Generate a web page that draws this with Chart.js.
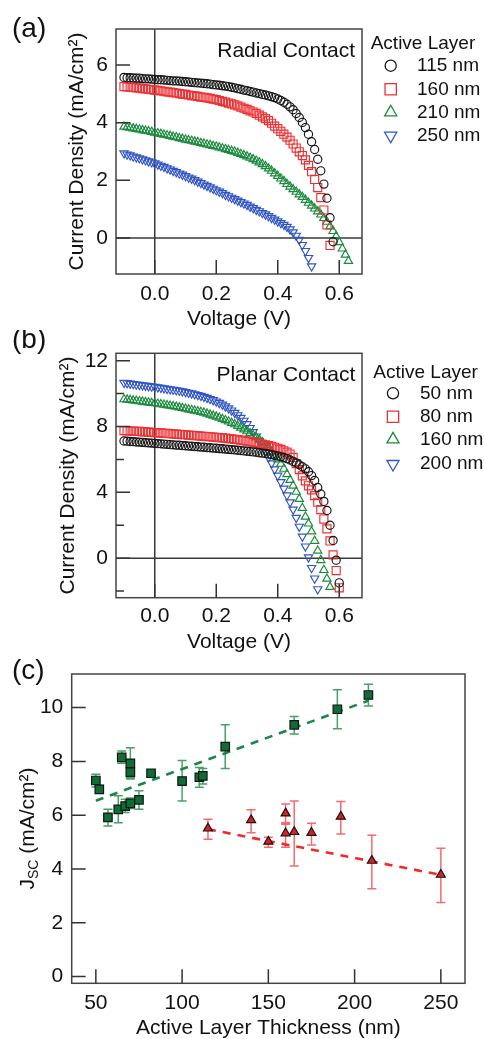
<!DOCTYPE html>
<html>
<head>
<meta charset="utf-8">
<script src="https://cdn.jsdelivr.net/npm/chart.js@4.4.1/dist/chart.umd.min.js"></script>
<style>
  html, body { margin: 0; padding: 0; background: #fff; }
  body { width: 484px; height: 1039px; position: relative; overflow: hidden; }
  canvas { position: absolute; left: 0; }
</style>
</head>
<body>
<canvas id="chartA" width="484" height="335" style="top:0px"></canvas>
<canvas id="chartB" width="484" height="325" style="top:330px"></canvas>
<canvas id="chartC" width="484" height="389" style="top:650px"></canvas>
<script>
const FONT = "'Liberation Sans', Arial, Helvetica, sans-serif";

// voltage sweep shared by panels (a) and (b)
const voltage = [-0.10,-0.09,-0.08,-0.07,-0.06,-0.05,-0.04,-0.03,-0.02,-0.01,
  0.00,0.01,0.02,0.03,0.04,0.05,0.06,0.07,0.08,0.09,
  0.10,0.11,0.12,0.13,0.14,0.15,0.16,0.17,0.18,0.19,
  0.20,0.21,0.22,0.23,0.24,0.25,0.26,0.27,0.28,0.29,
  0.30,0.31,0.32,0.33,0.34,0.35,0.36,0.37,0.38,0.39,
  0.40,0.41,0.42,0.43,0.44,0.45,0.46,0.47,0.48,0.49,
  0.50,0.51,0.52,0.53,0.54,0.55,0.56,0.57,0.58,0.59,
  0.60,0.61,0.62,0.63];

// (a) radial contact, current density (mA/cm2)
const jA115 = [5.57,5.56,5.56,5.55,5.54,5.54,5.53,5.52,5.52,5.51,
  5.50,5.49,5.49,5.48,5.47,5.46,5.45,5.45,5.44,5.43,
  5.42,5.41,5.40,5.39,5.38,5.37,5.36,5.35,5.34,5.32,
  5.31,5.30,5.28,5.27,5.25,5.23,5.21,5.18,5.16,5.13,
  5.11,5.08,5.06,5.03,5.01,4.98,4.96,4.93,4.90,4.87,
  4.82,4.77,4.71,4.64,4.55,4.45,4.32,4.18,4.01,3.83,
  3.60,3.34,3.07,2.73,2.33,1.87,1.38,0.70,-0.13];
const jA160 = [5.25,5.24,5.23,5.22,5.21,5.20,5.18,5.17,5.16,5.15,
  5.13,5.12,5.10,5.09,5.07,5.06,5.04,5.03,5.01,4.99,
  4.98,4.96,4.94,4.93,4.91,4.89,4.88,4.86,4.84,4.82,
  4.80,4.77,4.74,4.71,4.68,4.65,4.62,4.58,4.54,4.50,
  4.46,4.41,4.37,4.32,4.26,4.20,4.14,4.07,3.98,3.88,
  3.79,3.70,3.60,3.50,3.39,3.26,3.12,2.99,2.86,2.71,
  2.52,2.30,2.03,1.75,1.40,0.97,0.45,-0.26];
const jA210 = [3.86,3.84,3.82,3.80,3.78,3.76,3.74,3.72,3.70,3.68,
  3.65,3.63,3.61,3.58,3.56,3.54,3.51,3.49,3.46,3.44,
  3.41,3.39,3.37,3.34,3.32,3.29,3.27,3.24,3.22,3.19,
  3.17,3.14,3.11,3.08,3.05,3.02,2.99,2.95,2.91,2.87,
  2.83,2.78,2.73,2.68,2.62,2.56,2.49,2.41,2.33,2.24,
  2.15,2.06,1.97,1.87,1.78,1.69,1.60,1.51,1.42,1.32,
  1.22,1.12,1.02,0.92,0.81,0.69,0.56,0.40,0.24,0.06,
  -0.15,-0.37,-0.58,-0.80];
const jA250 = [2.94,2.90,2.87,2.83,2.80,2.77,2.73,2.70,2.66,2.63,
  2.59,2.55,2.51,2.47,2.42,2.38,2.33,2.29,2.24,2.20,
  2.15,2.10,2.06,2.01,1.96,1.91,1.86,1.81,1.76,1.71,
  1.66,1.61,1.56,1.50,1.45,1.40,1.35,1.30,1.25,1.20,
  1.15,1.09,1.04,0.98,0.93,0.87,0.82,0.76,0.70,0.64,
  0.58,0.52,0.46,0.39,0.30,0.20,0.08,-0.06,-0.24,-0.45,
  -0.69,-0.98];

// (b) planar contact
const jB50 = [7.12,7.11,7.09,7.08,7.06,7.05,7.04,7.02,7.01,6.99,
  6.98,6.96,6.95,6.93,6.92,6.90,6.89,6.87,6.86,6.84,
  6.83,6.81,6.80,6.78,6.77,6.75,6.74,6.72,6.71,6.69,
  6.68,6.66,6.65,6.63,6.61,6.60,6.58,6.56,6.54,6.52,
  6.50,6.48,6.46,6.44,6.41,6.38,6.36,6.33,6.29,6.25,
  6.21,6.17,6.12,6.05,5.97,5.88,5.79,5.68,5.56,5.43,
  5.25,5.02,4.72,4.30,3.90,3.45,2.90,2.00,1.08,-0.12,
  -1.50];
const jB80 = [7.75,7.74,7.73,7.72,7.71,7.70,7.68,7.67,7.66,7.65,
  7.63,7.62,7.61,7.59,7.58,7.57,7.55,7.54,7.53,7.51,
  7.50,7.48,7.47,7.45,7.44,7.42,7.41,7.39,7.38,7.36,
  7.35,7.33,7.31,7.29,7.27,7.25,7.22,7.20,7.17,7.14,
  7.11,7.08,7.04,7.00,6.96,6.92,6.88,6.84,6.79,6.74,
  6.68,6.61,6.53,6.44,6.33,6.12,5.75,5.38,5.00,4.70,
  4.40,4.15,3.80,3.40,2.95,2.38,1.78,1.05,0.20,-0.75,
  -1.80];
const jB160 = [9.65,9.63,9.61,9.58,9.56,9.53,9.51,9.48,9.46,9.43,
  9.41,9.38,9.35,9.32,9.29,9.26,9.23,9.20,9.16,9.12,
  9.08,9.04,9.00,8.96,8.92,8.88,8.84,8.78,8.72,8.66,
  8.60,8.53,8.46,8.38,8.30,8.22,8.13,8.03,7.93,7.82,
  7.71,7.59,7.47,7.34,7.20,7.05,6.88,6.69,6.48,6.25,
  6.00,5.73,5.43,5.10,4.75,4.40,4.03,3.60,3.05,2.52,
  2.10,1.62,1.05,0.45,-0.12,-0.72,-1.25,-1.75];
const jB200 = [10.66,10.64,10.61,10.59,10.56,10.54,10.51,10.49,10.46,10.44,
  10.42,10.39,10.36,10.33,10.30,10.27,10.24,10.21,10.18,10.14,
  10.10,10.06,10.02,9.97,9.92,9.87,9.81,9.75,9.68,9.61,
  9.53,9.44,9.34,9.23,9.11,8.98,8.84,8.69,8.53,8.36,
  8.15,7.92,7.67,7.40,7.11,6.80,6.47,6.13,5.77,5.40,
  5.02,4.63,4.23,3.82,3.40,2.96,2.46,1.92,1.32,0.72,
  0.06,-0.59,-1.23,-1.88];

// (c) short-circuit current vs active layer thickness
const planarThick = [50,52,57,63,65,67,70,70,70,75,82,100,110,112,125,165,190,208];
const planarJsc   = [7.29,6.96,5.92,6.22,8.15,6.34,7.93,7.60,6.44,6.57,7.56,7.27,7.41,7.46,8.55,9.36,9.94,10.47];
const planarHi    = [7.52,7.10,6.22,6.72,8.39,6.59,8.51,7.80,6.64,6.91,7.68,8.03,7.77,7.74,9.36,9.67,10.66,10.87];
const planarLo    = [7.05,6.85,5.60,5.72,7.93,6.10,7.35,7.40,6.25,6.22,7.44,6.53,7.04,7.16,7.74,9.02,9.21,10.06];
const radialThick = [115,140,150,160,160,165,175,192,210,250];
const radialJsc   = [5.51,5.82,5.02,6.07,5.33,5.38,5.35,5.95,4.31,3.79];
const radialHi    = [5.85,6.20,5.18,6.42,5.66,6.53,5.70,6.51,5.25,4.77];
const radialLo    = [5.11,5.35,4.81,5.72,4.81,4.11,4.89,5.30,3.27,2.75];
const planarFitX = [50, 208], planarFitY = [6.54, 10.26];
const radialFitX = [115, 250], radialFitY = [5.48, 3.78];

const COL = { black: '#161616', red: '#ee3033', green: '#1c8a3e', blue: '#3155c4' };

function drawMarker(ctx, style, x, y, r, down) {
  ctx.beginPath();
  if (style === 'circle') {
    ctx.arc(x, y, r, 0, Math.PI * 2);
  } else if (style === 'rect') {
    const s = r * Math.SQRT1_2;
    ctx.rect(x - s, y - s, 2 * s, 2 * s);
  } else {
    const d = down ? -1 : 1;
    ctx.moveTo(x, y - r * d);
    ctx.lineTo(x + 0.866 * r, y + 0.5 * r * d);
    ctx.lineTo(x - 0.866 * r, y + 0.5 * r * d);
    ctx.closePath();
  }
}

const decor = {
  id: 'decor',
  beforeDatasetsDraw(chart, args, o) {
    const { ctx, chartArea: a } = chart;
    const xs = chart.scales.x, ys = chart.scales.y;
    ctx.save();
    if (o.zeroLines) {
      ctx.strokeStyle = '#3a3a3a'; ctx.lineWidth = 1.5;
      ctx.beginPath();
      const x0 = xs.getPixelForValue(0), y0 = ys.getPixelForValue(0);
      ctx.moveTo(x0, a.top); ctx.lineTo(x0, a.bottom);
      ctx.moveTo(a.left, y0); ctx.lineTo(a.right, y0);
      ctx.stroke();
    }
    // error bars
    chart.data.datasets.forEach(ds => {
      if (!ds.errHi) return;
      ctx.strokeStyle = ds.errColor; ctx.lineWidth = 1.5;
      ctx.beginPath();
      ds.data.forEach((p, k) => {
        const px = xs.getPixelForValue(p.x);
        const t = ys.getPixelForValue(ds.errHi[k]);
        const b = ys.getPixelForValue(ds.errLo[k]);
        ctx.moveTo(px, t); ctx.lineTo(px, b);
        ctx.moveTo(px - 4.5, t); ctx.lineTo(px + 4.5, t);
        ctx.moveTo(px - 4.5, b); ctx.lineTo(px + 4.5, b);
      });
      ctx.stroke();
    });
    ctx.restore();
  },
  afterDraw(chart, args, o) {
    const { ctx, chartArea: a } = chart;
    const xs = chart.scales.x, ys = chart.scales.y;
    ctx.save();
    // frame and inward ticks
    ctx.strokeStyle = '#444'; ctx.lineWidth = 1.5;
    ctx.strokeRect(a.left, a.top, a.right - a.left, a.bottom - a.top);
    ctx.strokeStyle = '#333';
    ctx.beginPath();
    o.yMajor.forEach(v => { const y = ys.getPixelForValue(v); ctx.moveTo(a.left, y); ctx.lineTo(a.left + 14, y); });
    (o.yMinor || []).forEach(v => { const y = ys.getPixelForValue(v); ctx.moveTo(a.left, y); ctx.lineTo(a.left + 8, y); });
    o.xMajor.forEach(v => { const x = xs.getPixelForValue(v); ctx.moveTo(x, a.bottom); ctx.lineTo(x, a.bottom - 14); });
    ctx.stroke();

    ctx.fillStyle = '#111';
    ctx.textBaseline = 'alphabetic';
    ctx.textAlign = 'left';
    ctx.font = '28px ' + FONT;
    ctx.fillText(o.panel.text, o.panel.x, o.panel.y);

    if (o.inset) {
      ctx.font = '21px ' + FONT;
      ctx.textAlign = 'right';
      ctx.textBaseline = 'middle';
      ctx.fillText(o.inset.text, o.inset.x, o.inset.y);
    }

    if (o.legend) {
      const L = o.legend;
      ctx.font = '19px ' + FONT;
      ctx.textAlign = 'left';
      ctx.textBaseline = 'middle';
      ctx.fillText(L.title, L.tx, L.ty);
      chart.data.datasets.forEach((ds, i) => {
        const y = L.ys[i];
        ctx.strokeStyle = ds.borderColor; ctx.lineWidth = 1.3;
        const r = ds.pointStyle === 'circle' ? 5.6 : (ds.pointStyle === 'rect' ? 8 : 7);
        drawMarker(ctx, ds.pointStyle, L.mx, y, r, ds.pointRotation === 180);
        ctx.stroke();
        ctx.fillStyle = '#111';
        ctx.fillText(ds.label, L.lx, y);
      });
    }

    if (o.jscTitle) {
      const T = o.jscTitle;
      ctx.translate(T.x, T.y);
      ctx.rotate(-Math.PI / 2);
      ctx.textAlign = 'left';
      ctx.textBaseline = 'middle';
      const big = '21px ' + FONT, small = '14px ' + FONT;
      ctx.font = big; const wJ = ctx.measureText('J').width;
      ctx.font = small; const wS = ctx.measureText('SC').width;
      ctx.font = big; const wR = ctx.measureText(' (mA/cm²)').width;
      let x = -(wJ + wS + wR) / 2;
      ctx.fillText('J', x, 0); x += wJ;
      ctx.font = small; ctx.fillText('SC', x, 6); x += wS;
      ctx.font = big; ctx.fillText(' (mA/cm²)', x, 0);
    }
    ctx.restore();
  }
};

function baseOptions(o) {
  return {
    responsive: false,
    animation: false,
    layout: { padding: { top: o.top, right: o.right, left: 0, bottom: 0 } },
    plugins: { legend: { display: false }, tooltip: { enabled: false }, decor: o.decor },
    scales: {
      x: {
        type: 'linear', min: o.xMin, max: o.xMax,
        grid: { display: false, drawTicks: false }, border: { display: false },
        afterBuildTicks: s => { s.ticks = o.xMajor.map(v => ({ value: v })); },
        afterFit: s => { s.height = o.xH; },
        ticks: { autoSkip: false, maxRotation: 0, padding: o.xTickPad, color: '#111',
                 font: { family: FONT, size: 21 }, callback: o.xFmt },
        title: { display: true, text: o.xTitle, color: '#111',
                 font: { family: FONT, size: 21, lineHeight: 1 }, padding: { top: 0, bottom: o.xTitlePad } }
      },
      y: {
        type: 'linear', min: o.yMin, max: o.yMax,
        grid: { display: false, drawTicks: false }, border: { display: false },
        afterBuildTicks: s => { s.ticks = o.yMajor.map(v => ({ value: v })); },
        afterFit: s => { s.width = o.yW; },
        ticks: { autoSkip: false, padding: o.yTickPad, color: '#111',
                 font: { family: FONT, size: 21 }, callback: v => String(v) },
        title: { display: !!o.yTitle, text: o.yTitle || '', color: '#111',
                 font: { family: FONT, size: 21, lineHeight: 1 }, padding: { top: o.yTitlePad || 0, bottom: 0 } }
      }
    }
  };
}

const toPts = ys => ys.map((y, i) => ({ x: voltage[i], y }));
function jvSet(label, ys, style, color, down) {
  const r = style === 'circle' ? 4.1 : (style === 'rect' ? 5.7 : 4.8);
  return {
    label, data: toPts(ys), pointStyle: style, pointRotation: down ? 180 : 0,
    pointRadius: r, pointHoverRadius: r,
    borderColor: color, backgroundColor: 'rgba(255,255,255,0)', pointBorderWidth: 1.15, showLine: false
  };
}

const vTicks = [0, 0.2, 0.4, 0.6];

// --- PANEL (a): Radial contact ---
new Chart(document.getElementById('chartA'), {
  type: 'scatter',
  data: { datasets: [
    jvSet('115 nm', jA115, 'circle', COL.black),
    jvSet('160 nm', jA160, 'rect', COL.red),
    jvSet('210 nm', jA210, 'triangle', COL.green),
    jvSet('250 nm', jA250, 'triangle', COL.blue, true)
  ]},
  options: baseOptions({
    top: 29, right: 122, xH: 61, yW: 116,
    xMin: -0.126, xMax: 0.674, yMin: -1.25, yMax: 7.25,
    xMajor: vTicks, yMajor: [0, 2, 4, 6],
    xFmt: v => v.toFixed(1), xTickPad: 7.4, yTickPad: 8,
    xTitle: 'Voltage (V)', xTitlePad: 5.2,
    yTitle: 'Current Density (mA/cm²)', yTitlePad: 66.5,
    decor: {
      zeroLines: true, xMajor: vTicks, yMajor: [0, 2, 4, 6],
      panel: { text: '(a)', x: 12, y: 37 },
      inset: { text: 'Radial Contact', x: 355, y: 51 },
      legend: { title: 'Active Layer', tx: 370.7, ty: 44, mx: 390.7, lx: 417, ys: [65.7, 89.3, 112.3, 135.7] }
    }
  }),
  plugins: [decor]
});

// --- PANEL (b): Planar contact ---
new Chart(document.getElementById('chartB'), {
  type: 'scatter',
  data: { datasets: [
    jvSet('50 nm', jB50, 'circle', COL.black),
    jvSet('80 nm', jB80, 'rect', COL.red),
    jvSet('160 nm', jB160, 'triangle', COL.green),
    jvSet('200 nm', jB200, 'triangle', COL.blue, true)
  ]},
  options: baseOptions({
    top: 23.3, right: 122, xH: 57.3, yW: 116,
    xMin: -0.126, xMax: 0.674, yMin: -2.4, yMax: 12.45,
    xMajor: vTicks, yMajor: [0, 4, 8, 12],
    xFmt: v => v.toFixed(1), xTickPad: 6.4, yTickPad: 8,
    xTitle: 'Voltage (V)', xTitlePad: 1.8,
    yTitle: 'Current Density (mA/cm²)', yTitlePad: 57.8,
    decor: {
      zeroLines: true, xMajor: vTicks, yMajor: [0, 4, 8, 12], yMinor: [-2, 2, 6, 10],
      panel: { text: '(b)', x: 12, y: 18 },
      inset: { text: 'Planar Contact', x: 355.3, y: 45 },
      legend: { title: 'Active Layer', tx: 373.3, ty: 42.3, mx: 393, lx: 420, ys: [63.3, 86.7, 109.3, 134] }
    }
  }),
  plugins: [decor]
});

// --- PANEL (c): Jsc vs thickness ---
const cX = [50, 100, 150, 200, 250], cY = [0, 2, 4, 6, 8, 10];
new Chart(document.getElementById('chartC'), {
  type: 'scatter',
  data: { datasets: [
    { label: 'Planar', data: planarThick.map((x, i) => ({ x, y: planarJsc[i] })),
      errHi: planarHi, errLo: planarLo, errColor: 'rgba(38,145,78,0.85)',
      pointStyle: 'rect', pointRadius: 6, pointHoverRadius: 6, backgroundColor: '#0e6d35',
      borderColor: '#141414', pointBorderWidth: 1.2, order: 0 },
    { label: 'Radial', data: radialThick.map((x, i) => ({ x, y: radialJsc[i] })),
      errHi: radialHi, errLo: radialLo, errColor: 'rgba(240,70,72,0.8)',
      pointStyle: 'triangle', pointRadius: 5.2, pointHoverRadius: 5.2, backgroundColor: '#e31c23',
      borderColor: '#141414', pointBorderWidth: 1.2, order: 0 },
    { label: 'Planar fit', data: planarFitX.map((x, i) => ({ x, y: planarFitY[i] })),
      showLine: true, borderColor: '#1a8746', borderWidth: 2.6, borderDash: [8, 7], pointRadius: 0, order: 1 },
    { label: 'Radial fit', data: radialFitX.map((x, i) => ({ x, y: radialFitY[i] })),
      showLine: true, borderColor: '#ee2b2d', borderWidth: 2.6, borderDash: [8, 7], pointRadius: 0, order: 1 }
  ]},
  options: baseOptions({
    top: 24, right: 19, xH: 55.7, yW: 71.7,
    xMin: 36, xMax: 264, yMin: -0.25, yMax: 11.25,
    xMajor: cX, yMajor: cY,
    xFmt: v => String(v), xTickPad: 7.4, yTickPad: 8.4,
    xTitle: 'Active Layer Thickness (nm)', xTitlePad: 0.2,
    decor: {
      xMajor: cX, yMajor: cY,
      panel: { text: '(c)', x: 12, y: 29 },
      jscTitle: { x: 28.5, y: 178.5 }
    }
  }),
  plugins: [decor]
});
</script>
</body>
</html>
